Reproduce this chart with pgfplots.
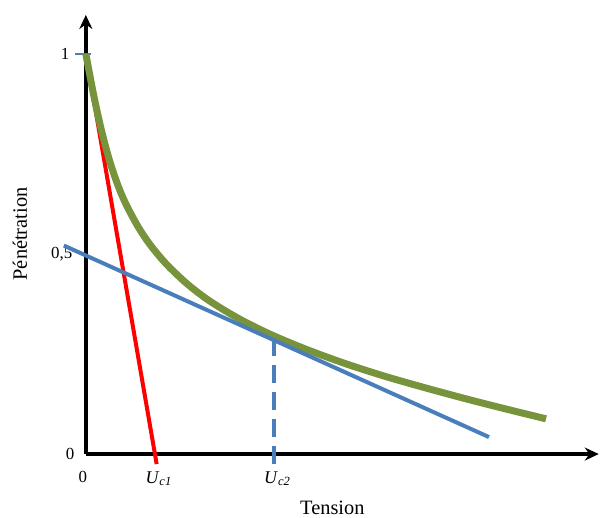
\documentclass[border=0pt]{standalone}
\usepackage{pgfplots}
\pgfplotsset{compat=1.18}
\usepackage{fontspec}
\setmainfont{Liberation Serif}
\usetikzlibrary{arrows.meta}
\definecolor{cgreen}{RGB}{119,147,60}
\definecolor{cblue}{RGB}{74,126,187}
\begin{document}
\begin{tikzpicture}
\begin{axis}[
  scale only axis,
  width=514bp, height=440bp,
  xmin=0, xmax=1.2818, ymin=0, ymax=1.0973,
  axis lines=left,
  axis line style={line width=4.5bp, black, -{Stealth[length=14bp,width=13bp]}},
  major tick length=0pt,
  ytick={0,0.5,1}, yticklabels={0,{0,5\hspace*{2bp}},{1\hspace*{5bp}}},
  xtick={0,0.1746,0.471},
  xticklabels={{\hspace*{-12bp}0},{\fontsize{18}{21}\selectfont\textit{U}\textsubscript{\textit{c1}}},{\fontsize{18}{21}\selectfont\textit{U}\textsubscript{\textit{c2}}}},
  yticklabel style={font=\fontsize{17}{20}\selectfont, anchor=east, xshift=-8bp},
  xticklabel style={font=\fontsize{17}{20}\selectfont, anchor=north, yshift=-14bp, xshift=3bp},
  clip=false,
]
\path (axis cs:-0.2145,-0.1571) rectangle (axis cs:1.2843,1.1347);
% short marker at y=1
\addplot[cblue, line width=2bp] coordinates {(-0.027,1) (0.012,1)};
% red tangent at origin
\addplot[red, line width=4bp] coordinates {(0,1) (0.177,-0.025)};
% green curve
\addplot[cgreen, line width=7bp, smooth] coordinates {
(0,1.0) (0.02,0.895) (0.04,0.805) (0.06,0.731) (0.08,0.672) (0.10,0.625)
(0.13,0.569) (0.16,0.524) (0.20,0.476) (0.25,0.428) (0.30,0.389)
(0.35,0.357) (0.40,0.329) (0.466,0.297) (0.55,0.262) (0.65,0.2255)
(0.75,0.1935) (0.85,0.165) (0.95,0.138) (1.05,0.1125) (1.15,0.088)};
% blue tangent
\addplot[cblue, line width=4bp] coordinates {(-0.0549,0.521) (1.0075,0.0424)};
% dashed vertical
\addplot[cblue, line width=4bp, dash pattern=on 18bp off 9bp] coordinates {(0.471,0.29) (0.471,-0.027)};
\node[rotate=90, font=\fontsize{20.5}{24}\selectfont] at (axis cs:-0.1646,0.55) {Pénétration};
\node[font=\fontsize{20.5}{24}\selectfont] at (axis cs:0.616,-0.1334) {Tension};
\end{axis}
\end{tikzpicture}
\end{document}
